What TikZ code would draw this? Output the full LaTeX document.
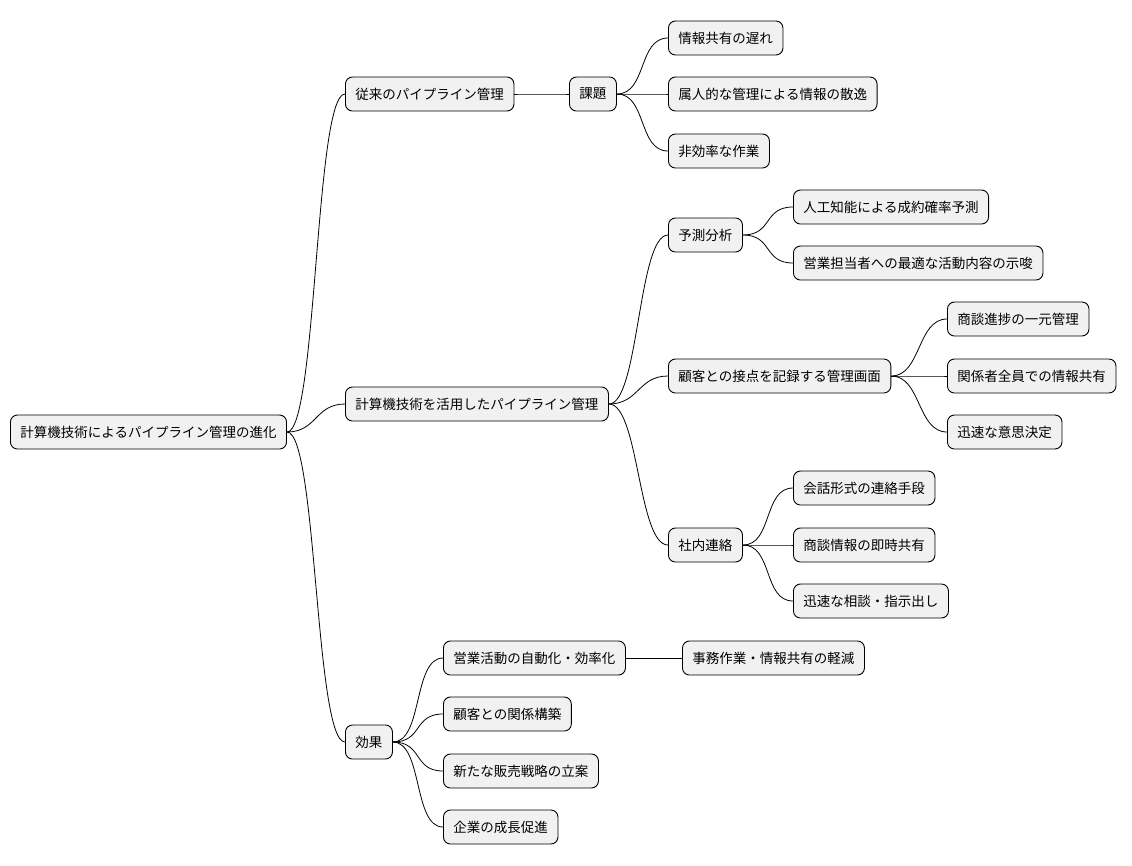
\documentclass[tikz,border=0pt]{standalone}
\usepackage{fontspec}
\setmainfont{Noto Sans CJK JP}
\begin{document}
\begin{tikzpicture}[x=1pt,y=-1pt,
  box/.style={draw=black,line width=0.9pt,fill=boxfill,rounded corners=7pt,anchor=west,
    minimum height=34pt,inner xsep=10pt,font=\fontsize{13.5}{15}\selectfont},
  conn/.style={draw=black,line width=0.8pt}]
\definecolor{boxfill}{HTML}{F1F1F1}
\useasboundingbox (0,0) rectangle (1132,865);
\node[box] (r) at (10,432) {計算機技術によるパイプライン管理の進化};
\node[box] (a) at (345,94) {従来のパイプライン管理};
\node[box] (a1) at (569,94) {課題};
\node[box] (a11) at (668,38) {情報共有の遅れ};
\node[box] (a12) at (668,94) {属人的な管理による情報の散逸};
\node[box] (a13) at (668,151) {非効率な作業};
\node[box] (b) at (345,404) {計算機技術を活用したパイプライン管理};
\node[box] (b1) at (668,235) {予測分析};
\node[box] (b11) at (793,207) {人工知能による成約確率予測};
\node[box] (b12) at (793,263) {営業担当者への最適な活動内容の示唆};
\node[box] (b2) at (668,376) {顧客との接点を記録する管理画面};
\node[box] (b21) at (947,319) {商談進捗の一元管理};
\node[box] (b22) at (947,376) {関係者全員での情報共有};
\node[box] (b23) at (947,432) {迅速な意思決定};
\node[box] (b3) at (668,545) {社内連絡};
\node[box] (b31) at (793,488) {会話形式の連絡手段};
\node[box] (b32) at (793,545) {商談情報の即時共有};
\node[box] (b33) at (793,601) {迅速な相談・指示出し};
\node[box] (c) at (345,742) {効果};
\node[box] (c1) at (443,658) {営業活動の自動化・効率化};
\node[box] (c11) at (682,658) {事務作業・情報共有の軽減};
\node[box] (c2) at (443,714) {顧客との関係構築};
\node[box] (c3) at (443,771) {新たな販売戦略の立案};
\node[box] (c4) at (443,827) {企業の成長促進};
\foreach \p/\c in {r/a,r/b,r/c,a/a1,a1/a11,a1/a12,a1/a13,b/b1,b/b2,b/b3,b1/b11,b1/b12,
  b2/b21,b2/b22,b2/b23,b3/b31,b3/b32,b3/b33,c/c1,c/c2,c/c3,c/c4,c1/c11}
  \draw[conn] (\p.east) .. controls ([xshift=30pt]\p.east) and ([xshift=-30pt]\c.west) .. (\c.west);
\end{tikzpicture}
\end{document}
